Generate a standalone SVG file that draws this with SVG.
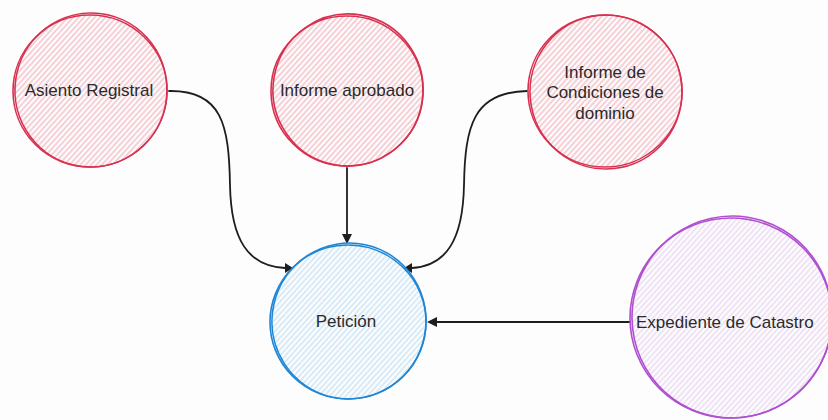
<svg xmlns="http://www.w3.org/2000/svg" width="828" height="420" viewBox="0 0 828 420">
<style>
.lbl{font-family:"Liberation Sans",Arial,sans-serif;font-size:17px;fill:#2a2a2a;text-anchor:middle;dominant-baseline:central}
.red{stroke:#d9304f;stroke-width:1.6;fill:none}
.blue{stroke:#1f86d6;stroke-width:1.6;fill:none}
.purple{stroke:#b04fd0;stroke-width:1.6;fill:none}
.conn{stroke:#1e1e1e;stroke-width:1.8;fill:none;stroke-linecap:round}
.head{fill:#1e1e1e}
</style>
<defs>
<pattern id="hRed" patternUnits="userSpaceOnUse" width="4" height="4" patternTransform="rotate(-48)">
<line x1="0" y1="2" x2="4" y2="2" stroke="#eea3b1" stroke-width="1"/>
</pattern>
<pattern id="hBlue" patternUnits="userSpaceOnUse" width="4" height="4" patternTransform="rotate(-48)">
<line x1="0" y1="2" x2="4" y2="2" stroke="#b3d8f2" stroke-width="1"/>
</pattern>
<pattern id="hPurple" patternUnits="userSpaceOnUse" width="4" height="4" patternTransform="rotate(-48)">
<line x1="0" y1="2" x2="4" y2="2" stroke="#e3c8ee" stroke-width="1"/>
</pattern>
</defs>
<rect width="828" height="420" fill="#fdfdfd"/>
<g id="connectors">
<path class="conn" d="M169,91 C222,90 229,125 230,185 C231,240 248,266 285,268"/>
<path class="head" d="M285,263 L293,268 L285,273 Z"/>
<path class="conn" d="M347,168 L347,236"/>
<path class="head" d="M342,234 L347,244 L352,234 Z"/>
<path class="conn" d="M527,91 C474,92 465,125 464,185 C463,240 446,266 412,268"/>
<path class="head" d="M412,263 L404,268 L412,273 Z"/>
<path class="conn" d="M630,322 L436,322"/>
<path class="head" d="M437,317 L427,322 L437,327 Z"/>
</g>
<g id="node-asiento">
<circle cx="90" cy="91" r="76" fill="url(#hRed)"/>
<ellipse class="red" cx="90" cy="91" rx="77" ry="76"/>
<ellipse class="red" cx="91" cy="90" rx="76" ry="77" transform="rotate(8 91 90)"/>
<text class="lbl" x="89" y="90">Asiento Registral</text>
</g>
<g id="node-informe-aprobado">
<circle cx="347" cy="91" r="75" fill="url(#hRed)"/>
<ellipse class="red" cx="347" cy="91" rx="76" ry="75"/>
<ellipse class="red" cx="348" cy="90" rx="75" ry="76" transform="rotate(10 348 90)"/>
<text class="lbl" x="347" y="90">Informe aprobado</text>
</g>
<g id="node-informe-condiciones">
<circle cx="605" cy="91" r="76" fill="url(#hRed)"/>
<ellipse class="red" cx="605" cy="91" rx="77" ry="76"/>
<ellipse class="red" cx="606" cy="92" rx="76" ry="77" transform="rotate(-6 606 92)"/>
<text class="lbl" x="605" y="72">Informe de</text>
<text class="lbl" x="605" y="92">Condiciones de</text>
<text class="lbl" x="605" y="113">dominio</text>
</g>
<g id="node-peticion">
<circle cx="348" cy="322" r="77" fill="url(#hBlue)"/>
<ellipse class="blue" cx="348" cy="322" rx="78" ry="77"/>
<ellipse class="blue" cx="349" cy="321" rx="77" ry="78" transform="rotate(12 349 321)"/>
<text class="lbl" x="346" y="321">Petición</text>
</g>
<g id="node-expediente">
<circle cx="731" cy="318" r="100" fill="url(#hPurple)"/>
<ellipse class="purple" cx="731" cy="318" rx="101" ry="100"/>
<ellipse class="purple" cx="732" cy="317" rx="100" ry="101" transform="rotate(9 732 317)"/>
<text class="lbl" x="636" y="322" style="text-anchor:start">Expediente de Catastro</text>
</g>
</svg>
